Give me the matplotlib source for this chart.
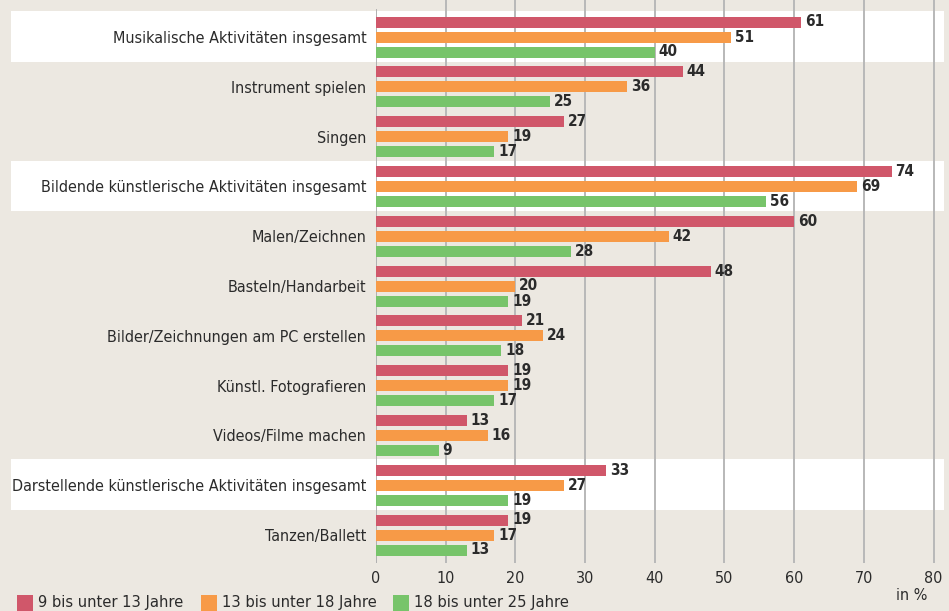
import matplotlib
matplotlib.use("Agg")
import matplotlib.pyplot as plt
from matplotlib.patches import Rectangle
from matplotlib.transforms import blended_transform_factory
import numpy as np

categories = [
    "Musikalische Aktivitäten insgesamt",
    "Instrument spielen",
    "Singen",
    "Bildende künstlerische Aktivitäten insgesamt",
    "Malen/Zeichnen",
    "Basteln/Handarbeit",
    "Bilder/Zeichnungen am PC erstellen",
    "Künstl. Fotografieren",
    "Videos/Filme machen",
    "Darstellende künstlerische Aktivitäten insgesamt",
    "Tanzen/Ballett",
]
highlight = [0, 3, 9]
series_names = ["9 bis unter 13 Jahre", "13 bis unter 18 Jahre", "18 bis unter 25 Jahre"]
age_9_13 = [61, 44, 27, 74, 60, 48, 21, 19, 13, 33, 19]
age_13_18 = [51, 36, 19, 69, 42, 20, 24, 19, 16, 27, 17]
age_18_25 = [40, 25, 17, 56, 28, 19, 18, 17, 9, 19, 13]
x_ticks = [0, 10, 20, 30, 40, 50, 60, 70, 80]
colors = ["#d0576a", "#f79a47", "#77c46a"]
bg = "#ece8e1"
text_col = "#2b2b2b"

plt.rcParams['font.family'] = ['DejaVu Sans']
plt.rcParams['font.stretch'] = 'condensed'

W, H = 949, 611
fig = plt.figure(figsize=(W / 100, H / 100), dpi=100, facecolor=bg)

x0_px = 376.0
px_per_unit = 6.97
xmax = 81.0
right_px = x0_px + xmax * px_per_unit
top_px, bot_px = 0.0, 563.0
ax = fig.add_axes([x0_px / W, 1 - bot_px / H, (right_px - x0_px) / W, (bot_px - top_px) / H])
ax.set_facecolor("none")

pitch = 49.8
row0 = 37.0
ax.set_xlim(0, xmax)
ax.set_ylim((bot_px - row0) / pitch, (top_px - row0) / pitch)

# white highlight bands
tr = blended_transform_factory(fig.transFigure, ax.transData)
for i in highlight:
    ax.add_patch(Rectangle((11 / W, i - 0.52), (944 - 11) / W, 1.02, transform=tr,
                           facecolor="white", edgecolor="none", zorder=0, clip_on=False))

# grid
for t in x_ticks:
    if t == 0:
        ax.axvline(t, ymax=1 - 10 / (bot_px - top_px), color="#b0b0b0", lw=1.4, zorder=1)
    else:
        ax.axvline(t, color="#b8b8b8", lw=1.4, zorder=1)

y = np.arange(len(categories))
off = 15 / pitch
bh = 11 / pitch
for k, (vals, c) in enumerate(zip([age_9_13, age_13_18, age_18_25], colors)):
    yy = y + (k - 1) * off
    ax.barh(yy, vals, height=bh, color=c, zorder=3)
    for yv, v in zip(yy, vals):
        ax.text(v + 0.55, yv, str(v), va="center", ha="left", fontsize=11,
                fontweight="bold", color=text_col, zorder=4)

for s in ax.spines.values():
    s.set_visible(False)
ax.set_yticks(y)
ax.set_yticklabels(categories, fontsize=11.5, color=text_col)
ax.tick_params(axis="y", length=0, pad=7)
ax.set_xticks(x_ticks)
ax.set_xticklabels([str(t) for t in x_ticks], fontsize=11.5, color=text_col)
ax.tick_params(axis="x", length=0, pad=6)

fig.text(927 / W, 1 - 596 / H, "in %", ha="right", va="center", fontsize=11.5, color=text_col)

# legend
leg_items = [(17, 38), (201, 222), (393, 414)]
for (sx, tx), name, c in zip(leg_items, series_names, colors):
    fig.patches.append(Rectangle((sx / W, 1 - 611 / H), 16 / W, 16 / H,
                                 transform=fig.transFigure, facecolor=c, edgecolor="none"))
    fig.text(tx / W, 1 - 603 / H, name, ha="left", va="center", fontsize=11.8, color=text_col)

fig.savefig("out.png", dpi=100, facecolor=bg)
